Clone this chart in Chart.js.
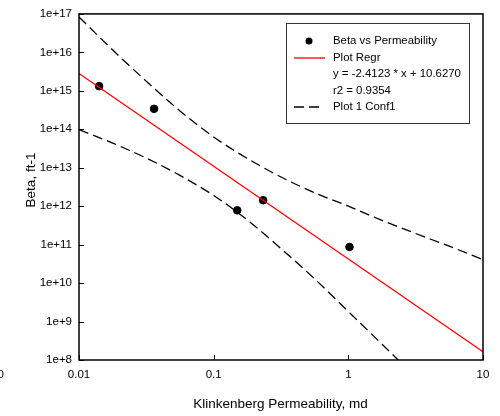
<!DOCTYPE html>
<html>
<head>
<meta charset="UTF-8">
<title>Beta vs Permeability</title>
<script src="https://cdn.jsdelivr.net/npm/chart.js"></script>
<style>
  html, body { margin: 0; padding: 0; background: #fff; }
  #wrap { width: 500px; height: 416px; position: relative; }
</style>
</head>
<body>
<div id="wrap"><canvas id="chart"></canvas></div>
<script>
// measured points
const permeability = [0.0141, 0.0361, 0.1496, 0.233, 1.02];
const beta = [1.32e15, 3.4e14, 7.8e11, 1.43e12, 8.7e10];

// regression line (straight in log-log), end points
const regrX = [0.01, 10];
const regrY = [2.83e15, 1.64e8];

// confidence band
const confX = [0.01, 0.0178, 0.0316, 0.0562, 0.1, 0.178, 0.316, 0.562, 1, 1.78, 3.16, 5.62, 10];
const confUpper = [8.3e16, 1.15e16, 1.78e15, 3.0e14, 6.3e13, 1.74e13, 5.75e12, 2.24e12, 1.0e12, 4.27e11, 1.95e11, 9.1e10, 4.07e10];
const confLower = [9.8e13, 4.37e13, 1.78e13, 6.3e12, 1.9e12, 4.37e11, 7.9e10, 1.29e10, 1.82e9, 2.57e8, 3.55e7, 4.8e6, 6.5e5];

const xTicks = [0.01, 0.1, 1, 10];
const yTicks = [1e8, 1e9, 1e10, 1e11, 1e12, 1e13, 1e14, 1e15, 1e16, 1e17];

const legendLines = ["Beta vs Permeability", "Plot Regr", "y = -2.4123 * x + 10.6270", "r2 = 0.9354", "Plot 1 Conf1"];

const FONT = "'Liberation Sans', Arial, sans-serif";

const toXY = (xs, ys) => xs.map((x, i) => ({ x: x, y: ys[i] }));

// frame, inward ticks, axis titles, legend
const decor = {
  id: "decor",
  afterDraw(chart) {
    const ctx = chart.ctx;
    const a = chart.chartArea;
    const xs = chart.scales.x, ys = chart.scales.y;
    ctx.save();
    ctx.strokeStyle = "#000";
    ctx.lineWidth = 1.5;
    ctx.strokeRect(a.left, a.top, a.right - a.left, a.bottom - a.top);

    ctx.lineWidth = 1;
    ctx.beginPath();
    xs.ticks.forEach(t => {
      const px = Math.round(xs.getPixelForValue(t.value)) + 0.5;
      ctx.moveTo(px, a.bottom); ctx.lineTo(px, a.bottom - 5);
    });
    ys.ticks.forEach(t => {
      const py = Math.round(ys.getPixelForValue(t.value)) + 0.5;
      ctx.moveTo(a.left, py); ctx.lineTo(a.left + 5, py);
    });
    ctx.stroke();

    // axis titles
    ctx.fillStyle = "#000";
    ctx.font = "13.5px " + FONT;
    ctx.textAlign = "center";
    ctx.textBaseline = "middle";
    ctx.fillText("Klinkenberg Permeability, md", 280.5, 404);
    ctx.save();
    ctx.translate(31, 180);
    ctx.rotate(-Math.PI / 2);
    ctx.fillText("Beta, ft-1", 0, 0);
    ctx.restore();

    // stray clipped label at the left edge
    ctx.font = "11.5px " + FONT;
    ctx.textAlign = "right";
    ctx.fillText("10", 4, 375);

    // legend
    const lx = 286, ly = 23, lw = 183, lh = 100;
    ctx.lineWidth = 1;
    ctx.strokeStyle = "#333";
    ctx.strokeRect(lx + 0.5, ly + 0.5, lw, lh);
    ctx.font = "11.4px " + FONT;
    ctx.textAlign = "left";
    const step = 16.5;
    legendLines.forEach((s, i) => ctx.fillText(s, 333, 41 + i * step));
    ctx.beginPath();
    ctx.arc(309, 41, 3.5, 0, Math.PI * 2);
    ctx.fill();
    ctx.strokeStyle = "#ff0000";
    ctx.lineWidth = 1.3;
    ctx.beginPath(); ctx.moveTo(294, 58); ctx.lineTo(325, 58); ctx.stroke();
    ctx.strokeStyle = "#000";
    ctx.setLineDash([10, 5]);
    ctx.beginPath(); ctx.moveTo(294, 107); ctx.lineTo(322, 107); ctx.stroke();
    ctx.restore();
  }
};

new Chart(document.getElementById("chart"), {
  type: "scatter",
  data: {
    datasets: [
      {
        label: "Plot 1 Conf1",
        data: toXY(confX, confUpper),
        showLine: true,
        borderColor: "#000",
        borderWidth: 1.3,
        borderDash: [10, 5],
        pointRadius: 0,
        cubicInterpolationMode: "monotone"
      },
      {
        label: "Plot 1 Conf1 lower",
        data: toXY(confX, confLower),
        showLine: true,
        borderColor: "#000",
        borderWidth: 1.3,
        borderDash: [10, 5],
        pointRadius: 0,
        cubicInterpolationMode: "monotone"
      },
      {
        label: "Plot Regr",
        data: toXY(regrX, regrY),
        showLine: true,
        borderColor: "#ff0000",
        borderWidth: 1.3,
        pointRadius: 0
      },
      {
        label: "Beta vs Permeability",
        data: toXY(permeability, beta),
        pointRadius: 3.8,
        pointBackgroundColor: "#000",
        pointBorderColor: "#000",
        showLine: false
      }
    ]
  },
  options: {
    responsive: true,
    maintainAspectRatio: false,
    animation: false,
    layout: { padding: { top: 11, right: 17, left: 0, bottom: 0 } },
    plugins: { legend: { display: false }, tooltip: { enabled: false } },
    scales: {
      x: {
        type: "logarithmic",
        min: 0.01,
        max: 10,
        afterBuildTicks: s => { s.ticks = xTicks.map(v => ({ value: v })); },
        afterFit: s => { s.height = 56; },
        grid: { display: false, drawTicks: false },
        border: { display: false },
        ticks: {
          color: "#000",
          font: { family: FONT, size: 11.5 },
          padding: 8,
          maxRotation: 0,
          autoSkip: false,
          callback: v => String(v)
        }
      },
      y: {
        type: "logarithmic",
        min: 1e8,
        max: 1e17,
        afterBuildTicks: s => { s.ticks = yTicks.map(v => ({ value: v })); },
        afterFit: s => { s.width = 79; },
        grid: { display: false, drawTicks: false },
        border: { display: false },
        ticks: {
          color: "#000",
          font: { family: FONT, size: 11.5 },
          padding: 7,
          autoSkip: false,
          callback: v => "1e+" + Math.round(Math.log10(v))
        }
      }
    }
  },
  plugins: [decor]
});
</script>
</body>
</html>
